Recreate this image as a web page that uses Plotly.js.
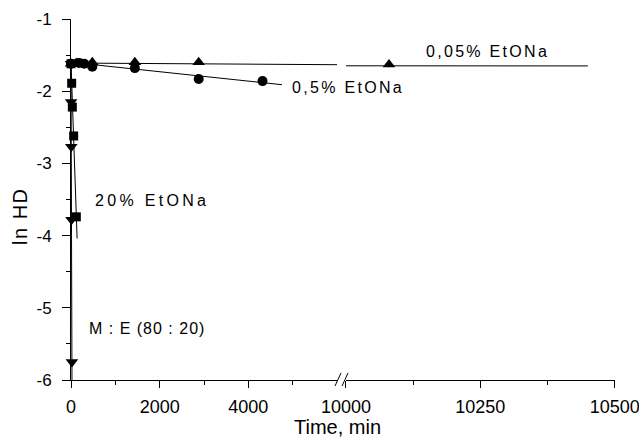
<!DOCTYPE html>
<html>
<head>
<meta charset="utf-8">
<script src="https://cdn.plot.ly/plotly-3.0.1.min.js"></script>
<style>html,body{margin:0;padding:0;background:#fff;}#chart{width:639px;height:437px;}</style>
</head>
<body>
<div id="chart"></div>
<script>
// ---- data ----
const t005 = [0, 120, 240, 480, 1440, 2880, 10080];
const y005 = [-1.62, -1.61, -1.62, -1.60, -1.60, -1.60, -1.63];
const fit005x = [0, 10450];
const fit005y = [-1.61, -1.65];

const t05 = [0, 180, 300, 480, 1440, 2880, 4320];
const y05 = [-1.62, -1.61, -1.62, -1.66, -1.68, -1.83, -1.86];
const fit05x = [0, 4760];
const fit05y = [-1.60, -1.91];

const t20 = [0, 15, 30, 60, 120];
const y20 = [-1.62, -1.89, -2.22, -2.62, -3.74];
const fit20x = [0, 138];
const fit20y = [-1.60, -4.04];

const tME = [0, 3, 6, 11, 21];
const yME = [-1.62, -2.15, -2.77, -3.78, -5.75];
const fitMEx = [0, 22];
const fitMEy = [-1.60, -6.00];

const xTicksLeft = [0, 2000, 4000];
const xMinorLeft = [1000, 3000, 5000];
const xTicksRight = [10000, 10250, 10500];
const xMinorRight = [10125, 10375];
const yTicks = [-6, -5, -4, -3, -2, -1];
const yTickText = ['-6', '-5', '-4', '-3', '-2', '-1'];
const yMinor = [-5.5, -4.5, -3.5, -2.5, -1.5];

const labels = {
  l005: '0,05% EtONa',
  l05: '0,5% EtONa',
  l20: '20% EtONa',
  lME: 'M : E (80 : 20)',
  xTitle: 'Time, min',
  yTitle: 'ln HD'
};

// ---- traces ----
const lineStyle = {color: '#000', width: 1};
function fitTraces(x, y) {
  return [
    {x: x, y: y, mode: 'lines', line: lineStyle, xaxis: 'x', yaxis: 'y', hoverinfo: 'skip', showlegend: false},
    {x: x, y: y, mode: 'lines', line: lineStyle, xaxis: 'x2', yaxis: 'y', hoverinfo: 'skip', showlegend: false}
  ];
}
function markerTraces(x, y, symbol, size) {
  const m = {symbol: symbol, size: size, color: '#000', line: {width: 0}};
  return [
    {x: x, y: y, mode: 'markers', marker: m, cliponaxis: false, xaxis: 'x', yaxis: 'y', showlegend: false},
    {x: x, y: y, mode: 'markers', marker: m, cliponaxis: false, xaxis: 'x2', yaxis: 'y', showlegend: false}
  ];
}

const data = [].concat(
  fitTraces(fit005x, fit005y),
  fitTraces(fit05x, fit05y),
  fitTraces(fit20x, fit20y),
  fitTraces(fitMEx, fitMEy),
  markerTraces(t05, y05, 'circle', 10),
  markerTraces(t005, y005, 'triangle-up', 11),
  markerTraces(t20, y20, 'square', 9),
  markerTraces(tME, yME, 'triangle-down', 11)
);

// markers outside a subplot range must not show on the other subplot
data.forEach(function(tr){
  if (tr.mode === 'markers') {
    const rng = tr.xaxis === 'x' ? [0, 6000] : [10000, 10500];
    const xs = [], ys = [];
    tr.x.forEach(function(v, i){ if (v >= rng[0] && v <= rng[1]) { xs.push(v); ys.push(tr.y[i]); } });
    tr.x = xs; tr.y = ys;
  }
});

const fam = 'Liberation Sans, Arial, sans-serif';
const xTickFont = {family: fam, size: 18, color: '#000'};
const yTickFont = {family: fam, size: 17, color: '#000'};
const annFont = {family: fam, size: 16, color: '#000'};

function spaced(text, px) {
  return '<span style="letter-spacing:' + px + 'px">' + text + '</span>';
}

const layout = {
  width: 639, height: 437,
  margin: {l: 71, r: 24, t: 19, b: 57, pad: 0},
  paper_bgcolor: '#fff', plot_bgcolor: '#fff',
  showlegend: false,
  xaxis: {
    domain: [0, 0.489], range: [0, 6000], anchor: 'y',
    showgrid: false, zeroline: false, showline: true, linecolor: '#000', linewidth: 1,
    ticks: 'outside', ticklen: 7, tickcolor: '#000', tickwidth: 1,
    tickmode: 'array', tickvals: xTicksLeft, ticktext: xTicksLeft.map(String),
    minor: {tickmode: 'array', tickvals: xMinorLeft, ticks: 'outside', ticklen: 4, tickcolor: '#000', showgrid: false},
    tickfont: xTickFont, ticklabelstandoff: 3, ticklabeloverflow: 'allow'
  },
  xaxis2: {
    domain: [0.5055, 1], range: [10000, 10500.5], anchor: 'y',
    showgrid: false, zeroline: false, showline: true, linecolor: '#000', linewidth: 1,
    ticks: 'outside', ticklen: 7, tickcolor: '#000', tickwidth: 1,
    tickmode: 'array', tickvals: xTicksRight, ticktext: xTicksRight.map(String),
    minor: {tickmode: 'array', tickvals: xMinorRight, ticks: 'outside', ticklen: 4, tickcolor: '#000', showgrid: false},
    tickfont: xTickFont, ticklabelstandoff: 3, ticklabeloverflow: 'allow'
  },
  yaxis: {
    domain: [0, 1], range: [-6, -1], anchor: 'x',
    showgrid: false, zeroline: false, showline: true, linecolor: '#000', linewidth: 1,
    ticks: 'outside', ticklen: 8, tickcolor: '#000', tickwidth: 1,
    tickmode: 'array', tickvals: yTicks, ticktext: yTickText,
    minor: {tickmode: 'array', tickvals: yMinor, ticks: 'outside', ticklen: 4, tickcolor: '#000', showgrid: false},
    tickfont: yTickFont, ticklabelstandoff: 7, ticklabeloverflow: 'allow'
  },
  shapes: [
    {type: 'line', xref: 'paper', yref: 'paper', x0: 0.4853, y0: -0.0166, x1: 0.4963, y1: 0.0194, line: {color: '#000', width: 1}},
    {type: 'line', xref: 'paper', yref: 'paper', x0: 0.4982, y0: -0.0166, x1: 0.5092, y1: 0.0194, line: {color: '#000', width: 1}}
  ],
  annotations: [
    {xref: 'paper', yref: 'paper', x: 0.7656, y: 0.911, xanchor: 'center', yanchor: 'middle', showarrow: false, text: spaced(labels.l005, 2.3), font: annFont},
    {xref: 'paper', yref: 'paper', x: 0.509, y: 0.809, xanchor: 'center', yanchor: 'middle', showarrow: false, text: spaced(labels.l05, 2.3), font: annFont},
    {xref: 'paper', yref: 'paper', x: 0.1498, y: 0.4986, xanchor: 'center', yanchor: 'middle', showarrow: false, text: spaced(labels.l20, 3.3), font: annFont},
    {xref: 'paper', yref: 'paper', x: 0.1406, y: 0.1413, xanchor: 'center', yanchor: 'middle', showarrow: false, text: spaced(labels.lME, 1), font: annFont},
    {xref: 'paper', yref: 'paper', x: 0.489, y: -0.130, xanchor: 'center', yanchor: 'middle', showarrow: false, text: labels.xTitle, font: {family: fam, size: 20, color: '#000'}},
    {xref: 'paper', yref: 'paper', x: -0.094, y: 0.454, xanchor: 'center', yanchor: 'middle', textangle: -90, showarrow: false, text: spaced(labels.yTitle, 1.5), font: {family: fam, size: 20, color: '#000'}}
  ]
};

Plotly.newPlot('chart', data, layout, {displayModeBar: false, staticPlot: true});
</script>
</body>
</html>
